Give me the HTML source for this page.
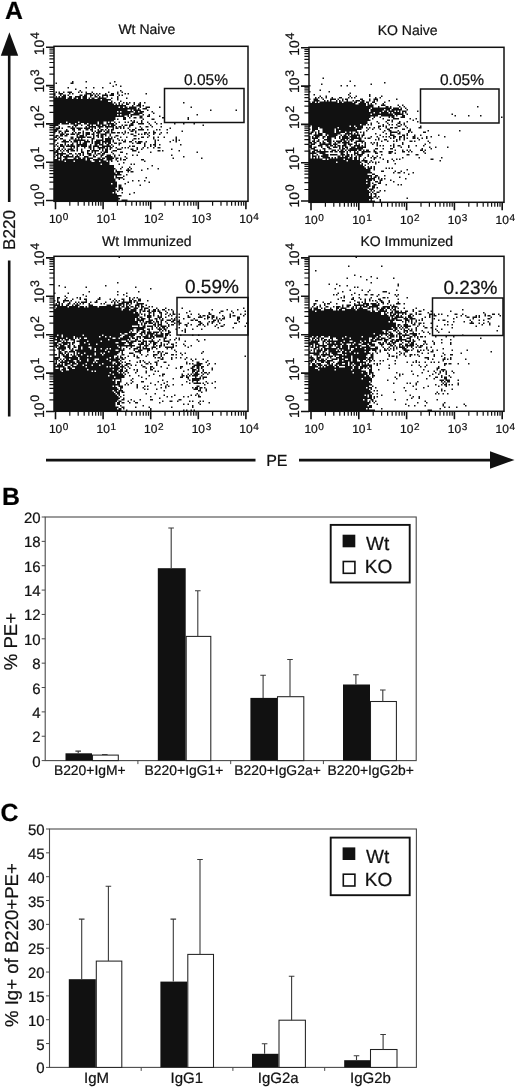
<!DOCTYPE html>
<html lang="en"><head><meta charset="utf-8"><title>Figure</title>
<style>html,body{margin:0;padding:0;background:#fff}svg{display:block}text{stroke:#111;stroke-width:.22px}</style></head>
<body>
<svg width="520" height="1089" viewBox="0 0 520 1089" font-family='"Liberation Sans", sans-serif' fill="#111" text-rendering="geometricPrecision">
<rect width="520" height="1089" fill="#fff"/>
<text x="4.9" y="19.4" font-size="24.8" font-weight="bold" fill="#000">A</text>
<text x="2.0" y="504.8" font-size="24.8" font-weight="bold" fill="#000">B</text>
<text x="0.4" y="821.4" font-size="24.8" font-weight="bold" fill="#000">C</text>
<path d="M9.4 32.3L18.2 55.8H0.8Z" fill="#111"/>
<path d="M9.2 55V202M9.2 260.5V416.5" stroke="#111" stroke-width="2.6" fill="none"/>
<text transform="translate(15 249.9) rotate(-90)" font-size="17.1">B220</text>
<path d="M46 460.1H255.5M299 460.1H491" stroke="#111" stroke-width="2.6" fill="none"/>
<path d="M514.5 460L490 451.3V468.7Z" fill="#111"/>
<text x="266.2" y="466" font-size="16">PE</text>
<g transform="translate(54 46.5) scale(1.5) translate(0 .5)"><path d="M12 23h1M21 23h1M40 23h1M1 24h1M11 24h2M37 24h1M41 25h1M39 26h1M44 26h1M9 27h1M21 27h1M26 27h1M32 27h1M14 28h1M17 29h1M44 29h1M1 30h1M3 30h1M6 30h1M9 30h3M16 30h1M18 30h1M21 30h1M25 30h1M36 30h1M42 30h1M45 30h1M0 31h1M3 31h3M10 31h1M12 31h1M21 31h4M26 31h1M28 31h1M30 31h1M34 31h1M38 31h2M42 31h1M47 31h1M49 31h1M61 31h1M0 32h1M4 32h1M6 32h2M9 32h1M17 32h2M20 32h2M24 32h2M27 32h1M29 32h1M32 32h4M37 32h3M43 32h1M45 32h1M1 33h1M3 33h1M5 33h3M10 33h2M14 33h4M19 33h3M24 33h1M27 33h2M30 33h1M32 33h1M35 33h1M42 33h1M0 34h8M9 34h3M13 34h2M16 34h2M19 34h3M23 34h1M25 34h2M29 34h6M38 34h1M42 34h1M48 34h1M0 35h31M32 35h6M42 35h1M0 36h36M38 36h1M44 36h1M0 37h39M40 37h1M43 37h1M46 37h1M48 37h1M50 37h1M53 37h1M57 37h1M60 37h1M86 37h1M0 38h40M41 38h1M43 38h1M45 38h1M48 38h2M53 38h1M56 38h2M0 39h48M52 39h1M55 39h3M59 39h1M0 40h43M44 40h2M47 40h2M50 40h5M57 40h1M61 40h3M70 40h1M91 40h1M0 41h55M56 41h1M59 41h3M0 42h49M51 42h1M53 42h5M62 42h1M104 42h1M121 42h1M0 43h42M43 43h1M45 43h8M54 43h2M57 43h3M65 43h1M0 44h51M53 44h6M66 44h1M0 45h42M43 45h1M45 45h5M51 45h6M59 45h1M63 45h1M95 45h1M0 46h47M49 46h1M51 46h1M57 46h2M62 46h2M70 46h1M0 47h41M46 47h2M50 47h1M53 47h2M57 47h2M72 47h2M89 47h1M0 48h41M42 48h1M46 48h2M59 48h1M65 48h2M89 48h1M0 49h40M51 49h1M53 49h1M58 49h1M0 50h8M9 50h7M17 50h12M30 50h3M35 50h1M37 50h1M40 50h1M43 50h1M47 50h1M49 50h1M52 50h2M55 50h1M58 50h1M62 50h1M67 50h1M0 51h4M5 51h5M11 51h3M15 51h3M20 51h2M23 51h6M30 51h3M35 51h5M41 51h1M51 51h2M56 51h4M63 51h1M68 51h1M71 51h1M80 51h1M86 51h1M93 51h1M0 52h3M13 52h3M18 52h1M22 52h2M25 52h1M28 52h3M32 52h3M36 52h1M38 52h3M45 52h1M47 52h2M50 52h3M64 52h1M99 52h1M0 53h1M3 53h1M9 53h2M12 53h1M14 53h1M21 53h1M23 53h5M29 53h4M34 53h6M41 53h1M43 53h2M46 53h1M50 53h1M57 53h1M61 53h2M65 53h1M71 53h1M1 54h3M5 54h1M11 54h3M15 54h4M20 54h4M25 54h1M27 54h1M30 54h1M35 54h1M39 54h1M41 54h2M44 54h1M46 54h1M49 54h1M54 54h1M58 54h1M77 54h1M0 55h3M8 55h1M12 55h2M16 55h2M21 55h2M24 55h2M29 55h1M31 55h2M34 55h1M36 55h1M38 55h2M50 55h1M52 55h2M56 55h4M62 55h1M68 55h1M70 55h1M75 55h1M0 56h2M3 56h2M7 56h3M13 56h1M19 56h1M25 56h1M27 56h1M29 56h3M33 56h1M35 56h2M38 56h1M47 56h1M51 56h2M54 56h1M66 56h1M85 56h1M0 57h1M3 57h1M5 57h1M7 57h1M12 57h1M14 57h1M16 57h2M19 57h1M21 57h3M26 57h1M28 57h3M34 57h3M38 57h3M42 57h2M45 57h1M47 57h1M49 57h1M54 57h1M60 57h2M63 57h1M66 57h2M71 57h1M75 57h1M4 58h3M8 58h2M11 58h3M15 58h2M19 58h1M21 58h3M25 58h2M29 58h1M31 58h4M37 58h1M46 58h1M51 58h2M56 58h1M58 58h1M60 58h1M62 58h1M66 58h1M70 58h1M1 59h2M4 59h2M7 59h2M15 59h1M17 59h3M21 59h1M26 59h1M28 59h2M31 59h2M34 59h1M37 59h1M41 59h2M53 59h2M63 59h1M0 60h2M3 60h1M11 60h2M15 60h6M22 60h3M26 60h1M29 60h1M31 60h2M36 60h1M38 60h1M40 60h1M44 60h1M48 60h1M58 60h2M62 60h1M66 60h1M69 60h1M73 60h1M81 60h1M2 61h1M4 61h2M11 61h2M14 61h1M16 61h1M18 61h1M25 61h2M32 61h1M34 61h5M42 61h1M53 61h2M56 61h1M66 61h1M81 61h1M0 62h2M6 62h2M10 62h1M13 62h8M22 62h1M25 62h1M28 62h5M34 62h4M39 62h1M43 62h1M45 62h1M47 62h1M52 62h1M67 62h1M69 62h1M79 62h1M81 62h1M83 62h1M0 63h1M5 63h5M11 63h1M13 63h3M17 63h1M20 63h4M25 63h1M27 63h4M32 63h6M39 63h1M46 63h2M50 63h2M54 63h1M56 63h3M61 63h1M67 63h1M77 63h1M81 63h1M2 64h1M7 64h1M12 64h1M15 64h1M17 64h1M19 64h3M25 64h1M27 64h4M32 64h1M34 64h1M36 64h2M40 64h2M43 64h2M52 64h1M55 64h3M60 64h1M67 64h1M1 65h1M4 65h2M7 65h1M9 65h1M11 65h2M15 65h7M24 65h1M27 65h2M30 65h3M35 65h2M38 65h1M43 65h1M60 65h1M64 65h1M66 65h2M70 65h1M84 65h1M0 66h1M2 66h1M4 66h3M8 66h6M15 66h2M18 66h4M23 66h2M26 66h4M32 66h6M39 66h1M50 66h1M52 66h2M60 66h1M64 66h1M67 66h1M3 67h1M6 67h1M11 67h1M13 67h1M15 67h1M20 67h1M23 67h2M26 67h1M29 67h5M35 67h1M37 67h2M41 67h1M45 67h1M47 67h1M49 67h1M55 67h1M59 67h1M62 67h1M66 67h1M69 67h2M0 68h1M2 68h2M5 68h1M7 68h1M9 68h4M15 68h1M18 68h1M24 68h1M26 68h1M30 68h1M32 68h1M34 68h2M37 68h1M42 68h3M51 68h2M55 68h1M58 68h1M78 68h1M1 69h2M4 69h1M6 69h1M8 69h2M11 69h3M15 69h1M18 69h1M22 69h2M25 69h5M32 69h1M34 69h2M39 69h3M52 69h3M69 69h2M72 69h1M83 69h1M0 70h3M5 70h1M9 70h1M18 70h2M22 70h1M25 70h1M27 70h1M31 70h1M33 70h3M38 70h1M44 70h2M56 70h1M64 70h1M95 70h1M0 71h1M2 71h6M10 71h2M14 71h1M16 71h2M19 71h1M22 71h3M27 71h1M29 71h2M32 71h2M39 71h1M48 71h1M1 72h2M4 72h2M8 72h2M12 72h1M15 72h1M17 72h1M19 72h1M23 72h2M26 72h1M28 72h1M31 72h2M35 72h3M40 72h1M43 72h1M52 72h1M55 72h1M78 72h1M0 73h1M2 73h1M4 73h1M6 73h7M14 73h3M20 73h3M26 73h2M31 73h1M34 73h5M40 73h1M47 73h1M86 73h1M2 74h3M7 74h2M13 74h2M16 74h2M19 74h2M22 74h4M29 74h2M32 74h2M35 74h5M41 74h2M44 74h1M48 74h1M79 74h1M98 74h1M0 75h3M4 75h1M6 75h15M22 75h2M26 75h7M35 75h4M41 75h1M44 75h1M46 75h2M58 75h2M0 76h7M8 76h5M14 76h11M27 76h3M31 76h4M36 76h1M38 76h1M42 76h1M60 76h1M0 77h37M46 77h1M0 78h31M32 78h5M43 78h1M51 78h1M53 78h1M0 79h40M65 79h1M0 80h40M45 80h1M50 80h1M0 81h41M44 81h1M49 81h1M51 81h1M62 81h1M69 81h1M0 82h40M41 82h1M48 82h3M58 82h1M0 83h40M41 83h5M49 83h1M51 83h2M0 84h41M42 84h2M0 85h45M48 85h1M0 86h40M41 86h1M46 86h1M0 87h40M41 87h5M61 87h1M0 88h41M43 88h1M46 88h1M0 89h41M52 89h1M56 89h1M60 89h1M0 90h42M49 90h1M63 90h1M0 91h38M39 91h3M47 91h1M0 92h42M43 92h2M57 92h1M0 93h42M43 93h2M0 94h41M43 94h3M0 95h42M43 95h1M45 95h1M0 96h41M42 96h1M0 97h39M40 97h1M45 97h1M53 97h1M0 98h42M50 98h1M0 99h45M0 100h43M0 101h44M0 102h43M45 102h4" stroke="#111" stroke-width="1.04" fill="none"/></g>
<rect x="54" y="46.3" width="194" height="155" fill="none" stroke="#111" stroke-width="1.5"/>
<path d="M69.8 201v4.8M54 189.0h-4.6M78.2 201v4.8M54 182.2h-4.6M84.2 201v4.8M54 177.4h-4.6M88.8 201v4.8M54 173.7h-4.6M92.5 201v4.8M54 170.7h-4.6M95.7 201v4.8M54 168.1h-4.6M98.5 201v4.8M54 165.9h-4.6M100.9 201v4.8M54 164.0h-4.6M117.4 201v4.8M54 150.7h-4.6M125.8 201v4.8M54 143.9h-4.6M131.8 201v4.8M54 139.1h-4.6M136.4 201v4.8M54 135.4h-4.6M140.1 201v4.8M54 132.4h-4.6M143.3 201v4.8M54 129.8h-4.6M146.1 201v4.8M54 127.6h-4.6M148.5 201v4.8M54 125.7h-4.6M165.0 201v4.8M54 112.4h-4.6M173.4 201v4.8M54 105.6h-4.6M179.4 201v4.8M54 100.8h-4.6M184.0 201v4.8M54 97.1h-4.6M187.7 201v4.8M54 94.1h-4.6M190.9 201v4.8M54 91.5h-4.6M193.7 201v4.8M54 89.3h-4.6M196.1 201v4.8M54 87.4h-4.6M212.6 201v4.8M54 74.1h-4.6M221.0 201v4.8M54 67.3h-4.6M227.0 201v4.8M54 62.5h-4.6M231.6 201v4.8M54 58.8h-4.6M235.3 201v4.8M54 55.8h-4.6M238.5 201v4.8M54 53.2h-4.6M241.3 201v4.8M54 51.0h-4.6M243.7 201v4.8M54 49.1h-4.6" stroke="#111" stroke-width="1.2" fill="none"/>
<path d="M55.5 201v8.3M54 200.5h-8M103.1 201v8.3M54 162.2h-8M150.7 201v8.3M54 123.9h-8M198.3 201v8.3M54 85.6h-8M245.9 201v8.3M54 47.3h-8" stroke="#111" stroke-width="1.6" fill="none"/>
<text x="48.9" y="223.3" font-size="12">10<tspan dy="-3.2" dx="0.6" font-size="10">0</tspan></text>
<text transform="translate(43.9 207.1) rotate(-90)" font-size="13.9">10<tspan dy="-4.8" dx="0.8" font-size="12.4">0</tspan></text>
<text x="96.5" y="223.3" font-size="12">10<tspan dy="-3.2" dx="0.6" font-size="10">1</tspan></text>
<text transform="translate(43.9 169.8) rotate(-90)" font-size="13.9">10<tspan dy="-4.8" dx="0.8" font-size="12.4">1</tspan></text>
<text x="144.1" y="223.3" font-size="12">10<tspan dy="-3.2" dx="0.6" font-size="10">2</tspan></text>
<text transform="translate(43.9 128.5) rotate(-90)" font-size="13.9">10<tspan dy="-4.8" dx="0.8" font-size="12.4">2</tspan></text>
<text x="191.7" y="223.3" font-size="12">10<tspan dy="-3.2" dx="0.6" font-size="10">3</tspan></text>
<text transform="translate(43.9 92.5) rotate(-90)" font-size="13.9">10<tspan dy="-4.8" dx="0.8" font-size="12.4">3</tspan></text>
<text x="239.3" y="223.3" font-size="12">10<tspan dy="-3.2" dx="0.6" font-size="10">4</tspan></text>
<text transform="translate(43.9 55.3) rotate(-90)" font-size="13.9">10<tspan dy="-4.8" dx="0.8" font-size="12.4">4</tspan></text>
<rect x="164.5" y="88.5" width="79.5" height="34.0" fill="none" stroke="#111" stroke-width="1.5"/>
<text x="184" y="85" font-size="15.5">0.05%</text>
<text x="146.8" y="34.3" font-size="14" text-anchor="middle">Wt Naive</text>
<g transform="translate(309 47.5) scale(1.5) translate(0 .5)"><path d="M9 20h1M27 22h1M50 23h1M8 24h1M41 24h1M0 25h1M21 25h1M25 25h1M30 25h1M7 28h1M0 29h1M13 29h1M27 30h1M3 31h1M26 31h1M40 31h1M7 32h1M11 32h1M27 32h1M31 32h1M40 32h1M48 32h1M4 33h1M6 33h1M8 33h1M11 33h1M15 33h1M20 33h2M26 33h1M28 33h1M30 33h1M44 33h1M47 33h1M0 34h1M3 34h3M9 34h1M14 34h4M19 34h1M22 34h1M24 34h2M34 34h2M40 34h1M43 34h3M58 34h1M3 35h4M10 35h1M12 35h1M14 35h1M18 35h1M20 35h1M22 35h1M25 35h1M29 35h1M31 35h3M35 35h2M40 35h1M43 35h1M45 35h1M53 35h1M0 36h1M2 36h2M5 36h1M7 36h12M20 36h2M23 36h6M30 36h2M34 36h3M38 36h2M42 36h2M50 36h1M0 37h31M33 37h5M39 37h1M41 37h1M44 37h1M49 37h1M0 38h38M39 38h4M48 38h3M59 38h1M62 38h1M0 39h43M46 39h1M51 39h2M54 39h1M60 39h1M63 39h1M112 39h1M0 40h41M42 40h13M56 40h4M61 40h1M64 40h1M0 41h40M41 41h9M51 41h3M55 41h7M65 41h1M0 42h40M41 42h8M50 42h2M53 42h4M58 42h1M60 42h1M62 42h3M72 42h1M0 43h43M44 43h3M48 43h5M54 43h1M56 43h5M62 43h1M64 43h1M0 44h41M42 44h14M57 44h6M65 44h1M95 44h1M0 45h46M48 45h9M58 45h1M62 45h2M97 45h1M106 45h1M114 45h1M0 46h41M43 46h1M47 46h1M53 46h1M55 46h2M61 46h3M128 46h1M0 47h40M42 47h1M49 47h1M56 47h4M67 47h1M71 47h1M0 48h41M52 48h2M55 48h1M69 48h1M0 49h39M45 49h1M51 49h1M55 49h1M60 49h1M65 49h1M72 49h1M0 50h39M41 50h1M46 50h1M52 50h1M59 50h2M63 50h1M0 51h34M35 51h3M39 51h1M41 51h1M49 51h1M53 51h1M55 51h1M58 51h1M61 51h1M63 51h1M0 52h1M2 52h25M28 52h2M31 52h5M46 52h2M49 52h1M51 52h1M59 52h2M64 52h1M74 52h1M2 53h4M7 53h12M20 53h11M32 53h4M38 53h1M40 53h1M43 53h1M46 53h1M51 53h1M54 53h2M57 53h2M65 53h1M73 53h2M0 54h1M2 54h4M9 54h8M18 54h17M39 54h1M42 54h1M47 54h1M52 54h2M62 54h2M67 54h1M2 55h2M6 55h1M9 55h8M18 55h2M21 55h11M38 55h1M50 55h1M53 55h2M59 55h1M66 55h2M79 55h1M100 55h1M1 56h2M4 56h1M6 56h1M9 56h8M18 56h6M25 56h2M28 56h1M31 56h2M34 56h1M36 56h1M49 56h1M54 56h5M60 56h1M66 56h1M68 56h1M76 56h2M0 57h2M4 57h1M6 57h3M11 57h10M24 57h5M30 57h1M32 57h1M36 57h1M44 57h1M51 57h1M54 57h1M59 57h2M65 57h1M3 58h6M11 58h1M13 58h6M21 58h1M23 58h2M26 58h1M28 58h6M35 58h2M47 58h1M54 58h3M62 58h2M65 58h1M70 58h1M74 58h1M86 58h1M0 59h1M2 59h1M4 59h3M9 59h2M12 59h6M20 59h1M22 59h4M27 59h5M33 59h1M35 59h1M41 59h1M45 59h1M49 59h1M51 59h1M53 59h1M56 59h2M60 59h2M63 59h1M69 59h2M78 59h1M81 59h1M90 59h1M0 60h1M2 60h4M9 60h1M12 60h3M17 60h1M20 60h1M22 60h5M28 60h7M37 60h1M39 60h2M46 60h1M54 60h1M56 60h1M60 60h1M63 60h1M65 60h1M69 60h2M72 60h1M75 60h1M78 60h1M0 61h1M3 61h1M6 61h1M10 61h5M21 61h3M25 61h1M27 61h3M33 61h2M44 61h1M46 61h1M50 61h2M58 61h1M60 61h1M63 61h1M73 61h1M0 62h1M2 62h2M5 62h2M9 62h1M12 62h3M16 62h1M18 62h4M23 62h2M26 62h1M28 62h1M31 62h6M48 62h1M52 62h1M56 62h1M58 62h1M67 62h2M70 62h1M79 62h1M0 63h2M3 63h2M7 63h1M9 63h2M13 63h2M17 63h1M19 63h2M22 63h5M30 63h2M35 63h1M37 63h1M41 63h1M43 63h1M45 63h1M62 63h1M80 63h1M1 64h3M7 64h8M16 64h3M23 64h2M26 64h3M31 64h1M33 64h1M37 64h1M42 64h1M45 64h1M56 64h1M62 64h1M77 64h1M0 65h2M6 65h3M11 65h2M14 65h2M17 65h1M19 65h2M22 65h3M27 65h1M30 65h4M35 65h1M37 65h1M45 65h1M47 65h1M49 65h1M54 65h1M56 65h1M59 65h2M66 65h1M71 65h1M76 65h1M0 66h2M3 66h2M8 66h1M12 66h2M16 66h3M20 66h1M22 66h1M24 66h2M28 66h3M32 66h6M56 66h1M61 66h1M66 66h1M80 66h1M84 66h1M92 66h1M1 67h3M9 67h2M13 67h2M20 67h1M22 67h2M25 67h1M27 67h9M44 67h2M49 67h1M54 67h2M75 67h1M81 67h1M0 68h1M3 68h3M7 68h1M10 68h1M15 68h3M19 68h1M21 68h2M24 68h1M26 68h6M33 68h2M36 68h1M38 68h2M43 68h1M57 68h1M62 68h1M65 68h1M67 68h1M74 68h2M77 68h1M0 69h1M2 69h2M5 69h8M14 69h2M17 69h2M20 69h4M25 69h1M27 69h1M30 69h1M32 69h1M35 69h6M43 69h2M47 69h2M53 69h3M62 69h2M66 69h1M68 69h1M76 69h1M0 70h5M7 70h4M21 70h2M25 70h1M30 70h3M35 70h2M44 70h2M53 70h2M57 70h1M77 70h1M0 71h1M2 71h1M5 71h1M9 71h4M14 71h5M21 71h3M25 71h2M28 71h1M30 71h1M32 71h4M39 71h1M48 71h1M65 71h2M71 71h2M0 72h1M2 72h3M6 72h1M8 72h5M19 72h2M22 72h1M24 72h3M28 72h1M31 72h1M33 72h2M39 72h1M42 72h1M45 72h1M0 73h1M2 73h1M4 73h1M6 73h1M9 73h5M15 73h1M17 73h1M19 73h7M27 73h2M30 73h2M33 73h1M37 73h1M41 73h1M43 73h2M47 73h1M62 73h1M73 73h1M88 73h1M0 74h9M11 74h1M13 74h10M24 74h5M30 74h2M33 74h1M36 74h1M43 74h1M49 74h1M55 74h1M58 74h1M60 74h1M81 74h2M0 75h25M26 75h8M35 75h4M41 75h1M52 75h1M56 75h1M87 75h1M0 76h18M19 76h16M37 76h2M40 76h1M42 76h1M44 76h1M46 76h1M52 76h1M0 77h34M35 77h1M39 77h1M44 77h1M57 77h1M0 78h36M37 78h1M0 79h37M39 79h1M41 79h1M43 79h1M0 80h38M39 80h3M43 80h1M51 80h1M53 80h1M55 80h1M0 81h41M43 81h1M65 81h1M0 82h41M48 82h2M57 82h1M61 82h1M0 83h42M56 83h1M59 83h2M63 83h1M69 83h1M0 84h39M42 84h2M66 84h1M0 85h42M44 85h2M50 85h1M0 86h40M41 86h1M43 86h2M46 86h1M60 86h1M0 87h44M46 87h1M48 87h1M50 87h1M64 87h1M0 88h38M39 88h3M43 88h1M47 88h2M54 88h1M0 89h41M44 89h2M47 89h1M56 89h1M0 90h38M39 90h2M42 90h1M46 90h2M0 91h41M43 91h2M51 91h1M59 91h1M61 91h1M0 92h41M42 92h2M0 93h40M42 93h2M45 93h1M0 94h39M40 94h3M0 95h40M41 95h1M43 95h1M47 95h1M50 95h1M0 96h41M42 96h1M45 96h2M0 97h40M41 97h1M43 97h2M0 98h40M41 98h1M44 98h1M0 99h42M43 99h2M46 99h1M0 100h43M45 100h1M65 100h1M0 101h40M41 101h1M47 101h1M0 102h44M47 102h1" stroke="#111" stroke-width="1.04" fill="none"/></g>
<rect x="309" y="47.3" width="195" height="155" fill="none" stroke="#111" stroke-width="1.5"/>
<path d="M325.4 202v4.8M309 189.5h-4.6M333.8 202v4.8M309 182.7h-4.6M339.8 202v4.8M309 177.9h-4.6M344.4 202v4.8M309 174.2h-4.6M348.2 202v4.8M309 171.2h-4.6M351.4 202v4.8M309 168.6h-4.6M354.2 202v4.8M309 166.4h-4.6M356.6 202v4.8M309 164.5h-4.6M373.2 202v4.8M309 151.2h-4.6M381.6 202v4.8M309 144.4h-4.6M387.6 202v4.8M309 139.6h-4.6M392.2 202v4.8M309 135.9h-4.6M396.0 202v4.8M309 132.9h-4.6M399.2 202v4.8M309 130.3h-4.6M402.0 202v4.8M309 128.1h-4.6M404.4 202v4.8M309 126.2h-4.6M421.0 202v4.8M309 112.9h-4.6M429.4 202v4.8M309 106.1h-4.6M435.4 202v4.8M309 101.3h-4.6M440.0 202v4.8M309 97.6h-4.6M443.8 202v4.8M309 94.6h-4.6M447.0 202v4.8M309 92.0h-4.6M449.8 202v4.8M309 89.8h-4.6M452.2 202v4.8M309 87.9h-4.6M468.8 202v4.8M309 74.6h-4.6M477.2 202v4.8M309 67.8h-4.6M483.2 202v4.8M309 63.0h-4.6M487.8 202v4.8M309 59.3h-4.6M491.6 202v4.8M309 56.3h-4.6M494.8 202v4.8M309 53.7h-4.6M497.6 202v4.8M309 51.5h-4.6M500.0 202v4.8M309 49.6h-4.6" stroke="#111" stroke-width="1.2" fill="none"/>
<path d="M311.0 202v8.3M309 201.0h-8M358.8 202v8.3M309 162.7h-8M406.6 202v8.3M309 124.4h-8M454.4 202v8.3M309 86.1h-8M502.2 202v8.3M309 47.8h-8" stroke="#111" stroke-width="1.6" fill="none"/>
<text x="304.4" y="224.3" font-size="12">10<tspan dy="-3.2" dx="0.6" font-size="10">0</tspan></text>
<text transform="translate(298.9 207.6) rotate(-90)" font-size="13.9">10<tspan dy="-4.8" dx="0.8" font-size="12.4">0</tspan></text>
<text x="352.2" y="224.3" font-size="12">10<tspan dy="-3.2" dx="0.6" font-size="10">1</tspan></text>
<text transform="translate(298.9 170.3) rotate(-90)" font-size="13.9">10<tspan dy="-4.8" dx="0.8" font-size="12.4">1</tspan></text>
<text x="400.0" y="224.3" font-size="12">10<tspan dy="-3.2" dx="0.6" font-size="10">2</tspan></text>
<text transform="translate(298.9 129.0) rotate(-90)" font-size="13.9">10<tspan dy="-4.8" dx="0.8" font-size="12.4">2</tspan></text>
<text x="447.8" y="224.3" font-size="12">10<tspan dy="-3.2" dx="0.6" font-size="10">3</tspan></text>
<text transform="translate(298.9 93.0) rotate(-90)" font-size="13.9">10<tspan dy="-4.8" dx="0.8" font-size="12.4">3</tspan></text>
<text x="495.6" y="224.3" font-size="12">10<tspan dy="-3.2" dx="0.6" font-size="10">4</tspan></text>
<text transform="translate(298.9 55.8) rotate(-90)" font-size="13.9">10<tspan dy="-4.8" dx="0.8" font-size="12.4">4</tspan></text>
<rect x="420.5" y="89" width="78.5" height="34" fill="none" stroke="#111" stroke-width="1.5"/>
<text x="440" y="85" font-size="15.5">0.05%</text>
<text x="407.7" y="34.5" font-size="14" text-anchor="middle">KO Naive</text>
<g transform="translate(54 256.5) scale(1.5) translate(0 .5)"><path d="M43 0h1M42 17h1M3 19h1M34 19h1M7 20h1M21 20h1M54 20h1M64 21h1M23 23h1M42 23h1M56 23h1M0 24h1M9 24h1M48 24h1M19 25h1M42 25h1M46 25h1M7 26h1M21 26h1M48 26h1M2 27h2M8 27h1M15 27h1M17 27h1M30 27h1M50 27h1M53 27h1M55 27h1M2 28h1M7 28h1M12 28h1M17 28h1M20 28h2M29 28h2M37 28h1M40 28h1M45 28h2M50 28h1M52 28h1M56 28h2M0 29h1M2 29h1M6 29h4M11 29h1M21 29h1M28 29h1M39 29h1M41 29h1M43 29h1M46 29h1M50 29h2M53 29h2M56 29h2M62 29h1M2 30h2M6 30h1M10 30h1M14 30h1M16 30h1M18 30h4M24 30h1M27 30h2M34 30h1M38 30h1M40 30h1M42 30h1M45 30h7M53 30h1M55 30h1M1 31h1M3 31h1M5 31h1M9 31h2M13 31h1M15 31h1M17 31h1M19 31h1M23 31h1M31 31h1M33 31h1M40 31h1M43 31h4M48 31h2M51 31h1M55 31h5M0 32h4M5 32h1M8 32h2M12 32h1M14 32h3M23 32h3M35 32h3M39 32h6M46 32h1M48 32h1M50 32h1M54 32h3M58 32h1M61 32h1M0 33h1M2 33h7M10 33h6M17 33h3M21 33h1M23 33h6M30 33h11M43 33h1M45 33h2M48 33h2M51 33h2M54 33h1M56 33h1M58 33h2M63 33h1M65 33h1M1 34h44M47 34h4M53 34h3M58 34h1M60 34h3M68 34h1M74 34h1M85 34h1M126 34h1M0 35h45M46 35h4M51 35h4M57 35h2M60 35h1M63 35h1M66 35h2M69 35h1M72 35h2M76 35h1M78 35h1M105 35h1M115 35h1M122 35h1M0 36h55M57 36h1M59 36h2M62 36h2M65 36h3M69 36h2M74 36h1M79 36h1M90 36h1M111 36h2M118 36h1M127 36h1M0 37h53M54 37h2M57 37h1M63 37h2M66 37h1M70 37h2M75 37h1M79 37h1M88 37h1M103 37h1M110 37h1M119 37h1M0 38h57M58 38h1M60 38h1M63 38h1M66 38h1M71 38h1M74 38h1M77 38h1M79 38h2M83 38h1M91 38h1M96 38h1M103 38h2M117 38h1M124 38h1M127 38h1M0 39h57M60 39h1M62 39h3M66 39h1M69 39h1M71 39h1M76 39h1M78 39h1M89 39h1M97 39h1M99 39h2M102 39h1M105 39h2M112 39h1M117 39h1M119 39h2M126 39h1M0 40h56M57 40h2M62 40h3M69 40h3M74 40h1M81 40h1M83 40h1M89 40h2M96 40h3M102 40h2M105 40h2M108 40h1M113 40h1M117 40h1M122 40h2M0 41h54M55 41h2M58 41h3M63 41h1M67 41h2M70 41h1M72 41h1M78 41h1M80 41h1M86 41h1M93 41h1M100 41h1M102 41h1M105 41h1M108 41h1M110 41h1M112 41h2M122 41h2M0 42h54M55 42h5M63 42h3M68 42h1M71 42h2M75 42h3M79 42h2M83 42h1M91 42h2M94 42h2M106 42h2M109 42h1M111 42h1M122 42h1M0 43h56M57 43h1M59 43h1M61 43h4M66 43h1M68 43h2M71 43h1M74 43h1M78 43h2M82 43h2M96 43h2M103 43h1M105 43h2M109 43h1M123 43h1M0 44h56M58 44h1M60 44h2M63 44h3M67 44h1M69 44h1M71 44h1M75 44h1M80 44h1M83 44h2M89 44h1M97 44h2M102 44h1M105 44h1M110 44h1M120 44h2M128 44h1M0 45h57M58 45h1M60 45h1M66 45h2M69 45h3M76 45h1M78 45h2M83 45h1M87 45h2M91 45h1M96 45h2M99 45h1M102 45h1M108 45h1M113 45h1M0 46h52M56 46h1M59 46h2M62 46h4M67 46h1M69 46h1M71 46h4M76 46h1M88 46h1M95 46h1M100 46h1M107 46h1M111 46h2M127 46h1M0 47h61M65 47h1M68 47h1M70 47h1M72 47h2M75 47h1M83 47h1M109 47h1M119 47h1M0 48h53M55 48h5M62 48h2M65 48h1M69 48h3M73 48h2M81 48h1M87 48h1M92 48h1M98 48h1M0 49h51M52 49h1M55 49h2M59 49h2M63 49h1M70 49h1M72 49h1M74 49h1M76 49h1M85 49h1M87 49h1M0 50h50M51 50h1M55 50h1M58 50h3M62 50h3M66 50h4M71 50h1M76 50h2M87 50h1M0 51h44M45 51h2M49 51h6M57 51h2M60 51h1M62 51h5M68 51h1M71 51h2M74 51h3M0 52h2M3 52h2M6 52h13M20 52h12M33 52h12M47 52h7M58 52h1M61 52h2M64 52h2M67 52h6M74 52h2M77 52h1M84 52h1M92 52h1M96 52h1M0 53h5M6 53h7M14 53h16M31 53h3M35 53h2M38 53h6M46 53h4M51 53h2M55 53h3M59 53h4M64 53h3M68 53h5M74 53h1M0 54h1M2 54h6M9 54h4M14 54h1M16 54h1M18 54h2M22 54h17M41 54h2M44 54h7M52 54h2M55 54h1M57 54h1M60 54h5M66 54h1M73 54h2M81 54h1M83 54h1M0 55h4M5 55h1M7 55h3M11 55h3M17 55h19M37 55h12M50 55h1M54 55h2M59 55h1M65 55h1M70 55h1M73 55h1M77 55h1M80 55h1M83 55h1M95 55h1M100 55h1M2 56h3M6 56h1M8 56h1M13 56h1M15 56h7M23 56h8M32 56h13M48 56h2M51 56h4M56 56h2M59 56h3M63 56h4M69 56h1M73 56h4M87 56h1M96 56h1M0 57h3M5 57h6M12 57h2M17 57h3M21 57h20M43 57h5M49 57h4M58 57h2M61 57h1M64 57h1M66 57h3M71 57h1M76 57h1M81 57h1M0 58h2M3 58h2M6 58h3M10 58h1M12 58h1M17 58h6M24 58h4M29 58h18M50 58h2M56 58h4M61 58h1M63 58h1M66 58h2M71 58h1M73 58h1M75 58h1M78 58h2M86 58h1M0 59h3M4 59h3M9 59h2M13 59h1M16 59h26M43 59h11M57 59h1M60 59h3M66 59h1M68 59h1M70 59h2M73 59h1M79 59h1M81 59h1M87 59h1M91 59h1M1 60h1M3 60h5M9 60h2M13 60h2M16 60h2M19 60h4M25 60h18M44 60h1M48 60h1M51 60h1M55 60h3M59 60h1M61 60h1M65 60h3M70 60h1M74 60h6M89 60h1M2 61h6M10 61h1M12 61h1M16 61h2M19 61h5M25 61h2M28 61h3M32 61h3M36 61h1M38 61h7M46 61h1M50 61h1M53 61h3M57 61h1M59 61h5M65 61h1M68 61h1M75 61h1M78 61h1M0 62h1M3 62h1M5 62h2M11 62h2M14 62h13M28 62h6M35 62h6M43 62h4M53 62h1M56 62h3M62 62h2M80 62h1M3 63h2M7 63h2M10 63h4M15 63h21M37 63h7M45 63h1M54 63h4M62 63h1M66 63h1M69 63h2M72 63h1M81 63h1M99 63h1M3 64h3M7 64h1M9 64h1M13 64h1M15 64h1M17 64h3M21 64h6M28 64h3M32 64h1M34 64h9M45 64h1M50 64h3M57 64h1M69 64h1M71 64h1M74 64h2M84 64h1M87 64h1M98 64h1M0 65h2M3 65h1M5 65h2M8 65h2M11 65h1M13 65h1M15 65h3M19 65h8M28 65h4M33 65h9M45 65h2M53 65h1M58 65h1M62 65h1M66 65h3M71 65h1M73 65h1M78 65h2M81 65h1M85 65h1M3 66h1M6 66h4M12 66h3M16 66h6M23 66h1M25 66h15M42 66h1M44 66h1M49 66h1M53 66h1M55 66h1M61 66h1M66 66h1M71 66h1M127 66h1M0 67h4M7 67h9M17 67h20M38 67h2M41 67h2M44 67h2M47 67h1M55 67h2M67 67h1M69 67h2M72 67h1M78 67h1M81 67h1M84 67h1M88 67h1M0 68h3M4 68h1M6 68h1M8 68h2M11 68h5M17 68h5M23 68h4M30 68h5M36 68h8M45 68h2M71 68h2M78 68h1M87 68h1M91 68h1M94 68h1M99 68h1M1 69h1M3 69h1M5 69h1M7 69h6M15 69h2M18 69h4M23 69h4M28 69h9M38 69h5M44 69h1M50 69h1M57 69h1M59 69h1M69 69h1M92 69h1M102 69h1M1 70h1M4 70h5M10 70h4M15 70h11M27 70h1M29 70h10M41 70h3M45 70h1M47 70h1M55 70h1M57 70h1M60 70h1M63 70h1M67 70h2M73 70h2M88 70h1M95 70h2M101 70h1M0 71h2M3 71h1M5 71h1M7 71h4M12 71h3M16 71h5M22 71h10M33 71h6M40 71h1M42 71h3M48 71h3M61 71h2M64 71h1M68 71h1M88 71h1M90 71h1M92 71h1M95 71h4M103 71h1M107 71h1M0 72h1M2 72h4M7 72h2M11 72h2M15 72h4M20 72h5M26 72h4M31 72h13M45 72h1M47 72h2M51 72h1M54 72h1M58 72h1M68 72h1M76 72h1M93 72h5M102 72h1M0 73h7M9 73h2M12 73h9M22 73h13M36 73h1M38 73h1M40 73h3M44 73h3M49 73h1M59 73h2M64 73h2M71 73h1M84 73h2M92 73h2M95 73h2M98 73h2M0 74h1M3 74h1M6 74h2M9 74h3M14 74h30M45 74h1M47 74h1M50 74h1M61 74h1M64 74h1M66 74h1M75 74h1M81 74h1M84 74h1M91 74h2M95 74h2M98 74h1M105 74h1M0 75h4M5 75h3M10 75h12M23 75h16M40 75h3M44 75h2M48 75h1M53 75h1M55 75h1M64 75h2M89 75h1M92 75h3M96 75h1M99 75h1M105 75h1M0 76h5M6 76h19M26 76h1M28 76h14M43 76h3M47 76h2M55 76h1M61 76h1M67 76h1M69 76h1M86 76h1M92 76h2M95 76h2M99 76h1M0 77h37M38 77h5M44 77h1M46 77h1M49 77h1M54 77h1M61 77h1M92 77h1M94 77h2M98 77h1M100 77h2M103 77h1M0 78h39M40 78h6M47 78h1M66 78h1M72 78h2M85 78h1M89 78h1M91 78h1M93 78h4M99 78h1M102 78h1M0 79h36M37 79h10M50 79h1M56 79h1M63 79h1M70 79h1M72 79h1M85 79h2M88 79h1M90 79h1M92 79h4M98 79h1M0 80h40M41 80h6M58 80h1M84 80h2M88 80h2M94 80h1M97 80h1M99 80h3M0 81h45M52 81h1M61 81h1M79 81h1M89 81h1M92 81h6M99 81h1M0 82h39M40 82h1M44 82h1M51 82h1M72 82h1M90 82h1M92 82h5M0 83h41M42 83h3M52 83h1M58 83h2M69 83h1M75 83h1M88 83h1M92 83h1M95 83h1M101 83h1M107 83h1M0 84h41M42 84h2M48 84h1M51 84h1M64 84h1M73 84h1M90 84h1M93 84h5M99 84h1M102 84h1M105 84h1M0 85h44M47 85h1M49 85h1M55 85h1M67 85h1M71 85h1M75 85h1M79 85h1M85 85h1M100 85h1M0 86h39M40 86h1M43 86h3M55 86h1M60 86h1M62 86h1M74 86h1M76 86h1M95 86h2M0 87h42M44 87h2M55 87h1M59 87h1M71 87h1M74 87h1M92 87h1M94 87h2M97 87h2M100 87h1M107 87h1M0 88h43M44 88h1M60 88h1M62 88h1M68 88h1M93 88h3M97 88h1M101 88h1M0 89h39M40 89h2M43 89h3M73 89h1M96 89h2M101 89h1M0 90h40M41 90h3M45 90h2M98 90h1M0 91h41M42 91h2M61 91h1M67 91h1M95 91h1M0 92h42M43 92h1M46 92h1M73 92h1M80 92h1M91 92h1M94 92h1M96 92h1M0 93h43M44 93h1M64 93h1M75 93h1M78 93h1M86 93h1M89 93h1M96 93h2M0 94h44M46 94h1M70 94h1M0 95h43M45 95h2M51 95h1M57 95h1M64 95h2M83 95h2M0 96h42M43 96h2M49 96h1M53 96h1M72 96h1M77 96h2M82 96h1M90 96h1M92 96h1M97 96h1M99 96h1M0 97h41M42 97h2M45 97h2M50 97h1M54 97h2M70 97h1M96 97h1M103 97h1M0 98h41M42 98h2M86 98h1M89 98h1M97 98h1M0 99h41M44 99h1M59 99h1M92 99h1M0 100h43M45 100h2M54 100h1M63 100h1M78 100h1M92 100h1M0 101h42M43 101h2M46 101h1M64 101h1M0 102h45M48 102h1M64 102h1M86 102h1M88 102h1M91 102h1M93 102h1" stroke="#111" stroke-width="1.04" fill="none"/></g>
<rect x="54" y="256.3" width="194" height="155" fill="none" stroke="#111" stroke-width="1.5"/>
<path d="M69.8 411v4.8M54 399.9h-4.6M78.2 411v4.8M54 393.2h-4.6M84.2 411v4.8M54 388.4h-4.6M88.8 411v4.8M54 384.7h-4.6M92.5 411v4.8M54 381.6h-4.6M95.7 411v4.8M54 379.0h-4.6M98.5 411v4.8M54 376.8h-4.6M100.9 411v4.8M54 374.9h-4.6M117.4 411v4.8M54 361.5h-4.6M125.8 411v4.8M54 354.8h-4.6M131.8 411v4.8M54 350.0h-4.6M136.4 411v4.8M54 346.3h-4.6M140.1 411v4.8M54 343.2h-4.6M143.3 411v4.8M54 340.6h-4.6M146.1 411v4.8M54 338.4h-4.6M148.5 411v4.8M54 336.5h-4.6M165.0 411v4.8M54 323.1h-4.6M173.4 411v4.8M54 316.4h-4.6M179.4 411v4.8M54 311.6h-4.6M184.0 411v4.8M54 307.9h-4.6M187.7 411v4.8M54 304.8h-4.6M190.9 411v4.8M54 302.2h-4.6M193.7 411v4.8M54 300.0h-4.6M196.1 411v4.8M54 298.1h-4.6M212.6 411v4.8M54 284.7h-4.6M221.0 411v4.8M54 278.0h-4.6M227.0 411v4.8M54 273.2h-4.6M231.6 411v4.8M54 269.5h-4.6M235.3 411v4.8M54 266.4h-4.6M238.5 411v4.8M54 263.8h-4.6M241.3 411v4.8M54 261.6h-4.6M243.7 411v4.8M54 259.7h-4.6" stroke="#111" stroke-width="1.2" fill="none"/>
<path d="M55.5 411v8.3M54 411.5h-8M103.1 411v8.3M54 373.1h-8M150.7 411v8.3M54 334.7h-8M198.3 411v8.3M54 296.3h-8M245.9 411v8.3M54 257.9h-8" stroke="#111" stroke-width="1.6" fill="none"/>
<text x="48.9" y="433.3" font-size="12">10<tspan dy="-3.2" dx="0.6" font-size="10">0</tspan></text>
<text transform="translate(43.9 418.1) rotate(-90)" font-size="13.9">10<tspan dy="-4.8" dx="0.8" font-size="12.4">0</tspan></text>
<text x="96.5" y="433.3" font-size="12">10<tspan dy="-3.2" dx="0.6" font-size="10">1</tspan></text>
<text transform="translate(43.9 380.7) rotate(-90)" font-size="13.9">10<tspan dy="-4.8" dx="0.8" font-size="12.4">1</tspan></text>
<text x="144.1" y="433.3" font-size="12">10<tspan dy="-3.2" dx="0.6" font-size="10">2</tspan></text>
<text transform="translate(43.9 339.3) rotate(-90)" font-size="13.9">10<tspan dy="-4.8" dx="0.8" font-size="12.4">2</tspan></text>
<text x="191.7" y="433.3" font-size="12">10<tspan dy="-3.2" dx="0.6" font-size="10">3</tspan></text>
<text transform="translate(43.9 303.2) rotate(-90)" font-size="13.9">10<tspan dy="-4.8" dx="0.8" font-size="12.4">3</tspan></text>
<text x="239.3" y="433.3" font-size="12">10<tspan dy="-3.2" dx="0.6" font-size="10">4</tspan></text>
<text transform="translate(43.9 265.9) rotate(-90)" font-size="13.9">10<tspan dy="-4.8" dx="0.8" font-size="12.4">4</tspan></text>
<rect x="177" y="297.5" width="71" height="37.5" fill="none" stroke="#111" stroke-width="1.5"/>
<text x="185" y="293.3" font-size="19">0.59%</text>
<text x="146.8" y="245.5" font-size="14" text-anchor="middle">Wt Immunized</text>
<g transform="translate(309 256.5) scale(1.5) translate(0 .5)"><path d="M31 0h1M26 6h1M48 6h1M4 9h1M30 12h1M34 13h1M41 13h1M25 14h1M45 14h1M56 14h1M38 15h1M41 17h1M13 18h1M18 18h1M59 18h1M20 19h1M25 19h1M59 19h1M30 20h1M32 20h1M17 21h1M27 22h1M35 22h1M40 22h1M58 22h1M22 23h1M39 23h1M49 23h3M19 24h1M30 24h1M53 24h1M16 25h1M18 25h1M28 25h1M33 25h1M37 25h2M41 25h2M46 25h1M57 25h1M59 25h1M23 26h1M45 26h1M58 26h1M21 27h1M23 27h1M29 27h1M33 27h1M41 27h1M49 27h2M52 27h1M65 27h1M19 28h1M28 28h2M34 28h1M37 28h1M40 28h1M46 28h2M59 28h1M4 29h2M22 29h2M30 29h1M37 29h1M40 29h1M42 29h1M44 29h1M47 29h2M53 29h1M9 30h1M14 30h1M27 30h1M32 30h2M35 30h1M37 30h1M45 30h1M48 30h2M53 30h1M59 30h1M3 31h2M10 31h1M12 31h2M18 31h1M30 31h1M33 31h1M36 31h4M41 31h4M46 31h1M49 31h1M52 31h1M58 31h3M63 31h1M3 32h1M7 32h1M10 32h1M22 32h1M25 32h3M30 32h7M38 32h2M42 32h5M54 32h1M56 32h1M2 33h1M5 33h1M7 33h1M11 33h2M16 33h1M18 33h3M22 33h1M25 33h2M29 33h1M31 33h1M34 33h1M36 33h3M40 33h6M49 33h5M55 33h4M1 34h1M3 34h3M8 34h1M10 34h1M14 34h1M18 34h2M21 34h4M28 34h2M31 34h1M33 34h3M39 34h2M42 34h1M45 34h2M48 34h3M52 34h2M55 34h1M57 34h1M59 34h1M63 34h1M71 34h1M0 35h2M3 35h5M10 35h6M18 35h1M20 35h2M24 35h7M32 35h7M42 35h1M45 35h1M47 35h3M51 35h1M54 35h1M56 35h2M69 35h1M76 35h1M102 35h1M0 36h4M5 36h36M42 36h2M46 36h6M55 36h1M57 36h3M61 36h1M64 36h2M69 36h1M73 36h2M81 36h1M94 36h1M0 37h48M50 37h1M52 37h1M54 37h2M57 37h8M71 37h1M79 37h1M116 37h1M0 38h48M50 38h2M54 38h1M56 38h2M59 38h1M62 38h1M64 38h1M67 38h2M71 38h1M73 38h2M80 38h2M83 38h1M86 38h1M88 38h1M97 38h2M102 38h1M117 38h1M122 38h2M126 38h1M0 39h53M54 39h3M58 39h2M61 39h1M66 39h2M69 39h1M80 39h1M83 39h2M92 39h1M101 39h1M104 39h1M111 39h1M113 39h1M117 39h1M119 39h2M127 39h1M0 40h54M55 40h1M57 40h6M64 40h1M66 40h3M77 40h1M80 40h1M98 40h1M105 40h2M109 40h3M113 40h1M121 40h1M0 41h54M55 41h4M63 41h3M67 41h4M75 41h1M83 41h1M96 41h1M109 41h1M119 41h2M0 42h57M58 42h4M64 42h3M68 42h1M71 42h1M73 42h1M75 42h1M86 42h1M89 42h2M107 42h1M113 42h1M116 42h1M0 43h53M54 43h2M62 43h1M64 43h1M66 43h1M68 43h1M71 43h1M92 43h1M96 43h1M103 43h1M108 43h1M119 43h1M0 44h58M64 44h1M68 44h1M70 44h1M73 44h2M76 44h1M81 44h1M107 44h3M113 44h1M116 44h1M120 44h1M0 45h58M59 45h2M63 45h3M69 45h2M73 45h1M90 45h1M92 45h1M95 45h1M115 45h1M120 45h1M0 46h58M59 46h1M61 46h1M63 46h5M72 46h1M76 46h1M85 46h1M111 46h1M126 46h1M0 47h55M56 47h3M60 47h1M62 47h1M64 47h2M71 47h1M77 47h2M81 47h1M95 47h1M0 48h56M57 48h2M61 48h1M63 48h1M66 48h1M68 48h1M71 48h1M84 48h1M88 48h1M0 49h49M51 49h2M56 49h2M59 49h1M63 49h3M67 49h2M71 49h1M75 49h1M85 49h1M125 49h1M0 50h50M51 50h1M53 50h2M58 50h1M60 50h1M63 50h1M65 50h1M69 50h1M76 50h1M79 50h1M86 50h1M93 50h1M0 51h43M44 51h9M54 51h2M59 51h3M64 51h1M67 51h5M73 51h1M80 51h1M0 52h47M48 52h1M51 52h1M53 52h4M58 52h1M60 52h1M62 52h5M69 52h3M102 52h1M0 53h2M3 53h2M6 53h2M10 53h3M14 53h10M25 53h10M36 53h9M46 53h2M52 53h1M54 53h3M58 53h1M60 53h2M63 53h1M67 53h2M70 53h1M72 53h1M74 53h2M77 53h1M84 53h1M91 53h1M96 53h1M2 54h2M5 54h2M8 54h2M14 54h2M18 54h4M23 54h4M28 54h12M42 54h2M45 54h2M48 54h3M53 54h2M60 54h2M65 54h3M72 54h1M114 54h1M0 55h1M2 55h1M4 55h1M6 55h1M8 55h1M10 55h2M13 55h1M15 55h1M19 55h21M41 55h2M44 55h5M50 55h3M55 55h2M58 55h7M67 55h1M69 55h1M73 55h1M88 55h1M94 55h1M1 56h6M9 56h2M12 56h11M24 56h3M29 56h5M35 56h2M38 56h2M41 56h4M50 56h2M54 56h2M57 56h3M61 56h1M64 56h4M69 56h2M76 56h2M82 56h1M0 57h6M9 57h1M11 57h1M13 57h1M15 57h2M18 57h3M22 57h8M31 57h4M36 57h6M46 57h2M49 57h1M51 57h1M53 57h1M55 57h3M62 57h1M66 57h1M68 57h2M77 57h1M83 57h1M88 57h1M94 57h1M0 58h3M4 58h3M9 58h1M12 58h10M23 58h2M28 58h1M30 58h3M35 58h4M40 58h4M47 58h3M52 58h3M56 58h1M60 58h2M64 58h2M67 58h3M71 58h1M76 58h1M78 58h1M83 58h1M94 58h1M0 59h1M2 59h1M4 59h1M6 59h6M13 59h3M17 59h1M19 59h2M22 59h4M27 59h8M38 59h2M41 59h3M48 59h1M54 59h2M57 59h1M60 59h1M62 59h1M64 59h6M72 59h1M74 59h2M1 60h2M4 60h3M9 60h2M13 60h2M18 60h3M22 60h4M27 60h4M32 60h2M35 60h6M44 60h2M49 60h1M53 60h1M56 60h1M58 60h1M60 60h4M65 60h1M68 60h1M71 60h1M73 60h2M78 60h1M81 60h1M3 61h2M6 61h1M8 61h1M10 61h9M20 61h6M27 61h1M30 61h7M38 61h8M50 61h1M52 61h1M54 61h1M56 61h1M58 61h1M62 61h3M69 61h1M78 61h1M89 61h1M1 62h1M3 62h1M5 62h4M10 62h2M13 62h5M19 62h1M21 62h1M23 62h5M29 62h12M42 62h3M47 62h1M50 62h2M53 62h1M56 62h1M63 62h4M68 62h1M72 62h1M74 62h1M76 62h1M79 62h1M82 62h1M85 62h1M95 62h1M105 62h1M0 63h1M3 63h1M5 63h3M9 63h2M13 63h8M22 63h2M25 63h2M28 63h9M38 63h2M44 63h1M47 63h1M60 63h1M64 63h2M72 63h2M81 63h2M121 63h1M0 64h7M9 64h1M11 64h1M13 64h1M15 64h4M22 64h8M31 64h1M33 64h8M42 64h1M45 64h1M52 64h1M58 64h1M61 64h1M63 64h1M75 64h1M79 64h1M89 64h1M101 64h1M3 65h4M8 65h6M16 65h6M23 65h1M25 65h14M41 65h2M53 65h1M60 65h1M63 65h1M67 65h2M70 65h1M72 65h1M83 65h1M90 65h1M94 65h2M1 66h1M5 66h1M7 66h1M9 66h2M13 66h3M17 66h1M20 66h8M29 66h9M41 66h2M53 66h1M55 66h2M58 66h1M64 66h1M67 66h1M73 66h1M83 66h1M88 66h1M0 67h3M5 67h3M12 67h1M14 67h1M18 67h4M23 67h5M29 67h10M40 67h3M58 67h1M77 67h3M90 67h1M94 67h1M1 68h3M5 68h2M8 68h2M11 68h1M15 68h4M20 68h4M26 68h2M29 68h3M33 68h5M39 68h2M42 68h1M52 68h1M79 68h1M82 68h1M89 68h2M92 68h1M94 68h1M104 68h1M0 69h3M4 69h1M6 69h5M12 69h4M20 69h2M23 69h5M29 69h3M34 69h2M38 69h1M40 69h2M43 69h1M47 69h1M49 69h1M57 69h1M71 69h1M89 69h1M1 70h1M4 70h1M8 70h2M11 70h3M16 70h1M19 70h7M27 70h11M40 70h1M65 70h1M69 70h1M71 70h1M73 70h1M77 70h1M81 70h1M83 70h1M86 70h1M0 71h1M2 71h2M5 71h3M12 71h2M15 71h1M18 71h4M24 71h2M27 71h2M30 71h4M35 71h1M37 71h1M39 71h1M43 71h1M45 71h1M47 71h1M57 71h1M90 71h2M93 71h2M99 71h1M106 71h1M2 72h3M6 72h3M10 72h2M13 72h3M17 72h2M20 72h6M27 72h1M29 72h1M31 72h3M35 72h7M45 72h1M53 72h1M68 72h1M73 72h1M78 72h1M90 72h1M0 73h6M7 73h1M9 73h1M11 73h6M18 73h2M24 73h5M30 73h3M34 73h5M40 73h2M74 73h1M77 73h1M86 73h1M0 74h4M6 74h23M30 74h3M34 74h2M37 74h1M39 74h1M41 74h1M53 74h1M85 74h2M0 75h6M7 75h10M18 75h10M29 75h6M40 75h2M46 75h1M76 75h1M85 75h1M88 75h3M0 76h38M40 76h2M68 76h1M79 76h1M83 76h1M87 76h1M89 76h1M91 76h1M95 76h1M0 77h29M30 77h5M36 77h3M40 77h3M58 77h1M75 77h1M84 77h1M87 77h1M91 77h1M96 77h1M0 78h39M40 78h1M42 78h1M60 78h1M62 78h1M69 78h1M82 78h1M86 78h1M91 78h1M0 79h37M38 79h2M42 79h2M60 79h1M72 79h1M80 79h1M88 79h1M93 79h1M0 80h41M42 80h1M57 80h1M84 80h2M88 80h1M90 80h2M94 80h1M0 81h35M36 81h6M58 81h1M78 81h1M83 81h1M90 81h2M0 82h42M52 82h1M87 82h3M91 82h3M99 82h1M0 83h40M41 83h1M72 83h1M88 83h1M90 83h1M92 83h2M0 84h41M56 84h1M65 84h1M67 84h1M71 84h1M89 84h1M91 84h1M99 84h1M0 85h42M71 85h1M84 85h1M88 85h1M90 85h2M93 85h1M95 85h1M99 85h1M0 86h40M42 86h1M69 86h1M79 86h1M86 86h1M91 86h1M0 87h38M39 87h3M44 87h1M63 87h1M76 87h1M0 88h40M41 88h1M71 88h1M88 88h1M95 88h1M0 89h41M43 89h1M45 89h1M64 89h1M88 89h1M90 89h1M0 90h42M56 90h1M85 90h1M0 91h41M42 91h1M45 91h1M84 91h1M86 91h1M89 91h1M92 91h1M0 92h37M38 92h1M40 92h2M48 92h1M67 92h1M0 93h39M40 93h2M43 93h1M45 93h1M69 93h1M73 93h1M0 94h42M43 94h1M68 94h1M73 94h1M0 95h36M37 95h2M41 95h2M57 95h1M65 95h1M85 95h1M0 96h39M40 96h1M42 96h1M44 96h1M77 96h1M0 97h41M43 97h1M72 97h1M78 97h1M90 97h1M0 98h40M45 98h1M64 98h1M89 98h1M103 98h1M0 99h39M40 99h2M66 99h1M70 99h1M77 99h1M89 99h1M104 99h1M0 100h42M90 100h1M93 100h1M98 100h1M0 101h38M39 101h1M48 101h1M87 101h1M0 102h44M79 102h3" stroke="#111" stroke-width="1.04" fill="none"/></g>
<rect x="309" y="256.3" width="195" height="155" fill="none" stroke="#111" stroke-width="1.5"/>
<path d="M325.4 411v4.8M309 399.9h-4.6M333.8 411v4.8M309 393.2h-4.6M339.8 411v4.8M309 388.4h-4.6M344.4 411v4.8M309 384.7h-4.6M348.2 411v4.8M309 381.6h-4.6M351.4 411v4.8M309 379.0h-4.6M354.2 411v4.8M309 376.8h-4.6M356.6 411v4.8M309 374.9h-4.6M373.2 411v4.8M309 361.5h-4.6M381.6 411v4.8M309 354.8h-4.6M387.6 411v4.8M309 350.0h-4.6M392.2 411v4.8M309 346.3h-4.6M396.0 411v4.8M309 343.2h-4.6M399.2 411v4.8M309 340.6h-4.6M402.0 411v4.8M309 338.4h-4.6M404.4 411v4.8M309 336.5h-4.6M421.0 411v4.8M309 323.1h-4.6M429.4 411v4.8M309 316.4h-4.6M435.4 411v4.8M309 311.6h-4.6M440.0 411v4.8M309 307.9h-4.6M443.8 411v4.8M309 304.8h-4.6M447.0 411v4.8M309 302.2h-4.6M449.8 411v4.8M309 300.0h-4.6M452.2 411v4.8M309 298.1h-4.6M468.8 411v4.8M309 284.7h-4.6M477.2 411v4.8M309 278.0h-4.6M483.2 411v4.8M309 273.2h-4.6M487.8 411v4.8M309 269.5h-4.6M491.6 411v4.8M309 266.4h-4.6M494.8 411v4.8M309 263.8h-4.6M497.6 411v4.8M309 261.6h-4.6M500.0 411v4.8M309 259.7h-4.6" stroke="#111" stroke-width="1.2" fill="none"/>
<path d="M311.0 411v8.3M309 411.5h-8M358.8 411v8.3M309 373.1h-8M406.6 411v8.3M309 334.7h-8M454.4 411v8.3M309 296.3h-8M502.2 411v8.3M309 257.9h-8" stroke="#111" stroke-width="1.6" fill="none"/>
<text x="304.4" y="433.3" font-size="12">10<tspan dy="-3.2" dx="0.6" font-size="10">0</tspan></text>
<text transform="translate(298.9 418.1) rotate(-90)" font-size="13.9">10<tspan dy="-4.8" dx="0.8" font-size="12.4">0</tspan></text>
<text x="352.2" y="433.3" font-size="12">10<tspan dy="-3.2" dx="0.6" font-size="10">1</tspan></text>
<text transform="translate(298.9 380.7) rotate(-90)" font-size="13.9">10<tspan dy="-4.8" dx="0.8" font-size="12.4">1</tspan></text>
<text x="400.0" y="433.3" font-size="12">10<tspan dy="-3.2" dx="0.6" font-size="10">2</tspan></text>
<text transform="translate(298.9 339.3) rotate(-90)" font-size="13.9">10<tspan dy="-4.8" dx="0.8" font-size="12.4">2</tspan></text>
<text x="447.8" y="433.3" font-size="12">10<tspan dy="-3.2" dx="0.6" font-size="10">3</tspan></text>
<text transform="translate(298.9 303.2) rotate(-90)" font-size="13.9">10<tspan dy="-4.8" dx="0.8" font-size="12.4">3</tspan></text>
<text x="495.6" y="433.3" font-size="12">10<tspan dy="-3.2" dx="0.6" font-size="10">4</tspan></text>
<text transform="translate(298.9 265.9) rotate(-90)" font-size="13.9">10<tspan dy="-4.8" dx="0.8" font-size="12.4">4</tspan></text>
<rect x="432.5" y="298" width="70.5" height="37.5" fill="none" stroke="#111" stroke-width="1.5"/>
<text x="443.5" y="293.8" font-size="19">0.23%</text>
<text x="406.8" y="245.7" font-size="14" text-anchor="middle">KO Immunized</text>
<rect x="45.2" y="517.0" width="371.0" height="243.60000000000002" fill="none" stroke="#4a4a4a" stroke-width="1.1"/>
<text x="40.6" y="766.6" font-size="15" text-anchor="end">0</text>
<text x="40.6" y="742.2" font-size="15" text-anchor="end">2</text>
<text x="40.6" y="717.9" font-size="15" text-anchor="end">4</text>
<text x="40.6" y="693.5" font-size="15" text-anchor="end">6</text>
<text x="40.6" y="669.2" font-size="15" text-anchor="end">8</text>
<text x="40.6" y="644.8" font-size="15" text-anchor="end">10</text>
<text x="40.6" y="620.4" font-size="15" text-anchor="end">12</text>
<text x="40.6" y="596.1" font-size="15" text-anchor="end">14</text>
<text x="40.6" y="571.7" font-size="15" text-anchor="end">16</text>
<text x="40.6" y="547.4" font-size="15" text-anchor="end">18</text>
<text x="40.6" y="523.0" font-size="15" text-anchor="end">20</text>
<path d="M45.2 760.60h-3.5M45.2 736.24h-3.5M45.2 711.88h-3.5M45.2 687.52h-3.5M45.2 663.16h-3.5M45.2 638.80h-3.5M45.2 614.44h-3.5M45.2 590.08h-3.5M45.2 565.72h-3.5M45.2 541.36h-3.5M45.2 517.00h-3.5M137.9 760.6v3.5M230.7 760.6v3.5M323.4 760.6v3.5" stroke="#4a4a4a" stroke-width="1" fill="none"/>
<rect x="65.5" y="753.3" width="26.5" height="7.3" fill="#111"/>
<rect x="92.5" y="755.1" width="25.8" height="5.5" fill="#fff" stroke="#222" stroke-width="1.05"/>
<path d="M78.2 753.3V751.1M75.4 751.1h5.6" stroke="#3a3a3a" stroke-width="1.1" fill="none"/>
<path d="M104.8 755.1V754.5M102.0 754.5h5.6" stroke="#3a3a3a" stroke-width="1.1" fill="none"/>
<text x="89.8" y="775.1" font-size="13.9" text-anchor="middle">B220+IgM+</text>
<rect x="157.8" y="568.2" width="27.9" height="192.4" fill="#111"/>
<rect x="186.2" y="636.4" width="24.6" height="124.2" fill="#fff" stroke="#222" stroke-width="1.05"/>
<path d="M171.2 568.2V528.0M168.3 528.0h5.6" stroke="#3a3a3a" stroke-width="1.1" fill="none"/>
<path d="M197.8 636.4V590.7M195.0 590.7h5.6" stroke="#3a3a3a" stroke-width="1.1" fill="none"/>
<text x="184" y="775.1" font-size="13.9" text-anchor="middle">B220+IgG1+</text>
<rect x="250.4" y="697.9" width="26.6" height="62.7" fill="#111"/>
<rect x="277.5" y="696.7" width="26.3" height="63.9" fill="#fff" stroke="#222" stroke-width="1.05"/>
<path d="M263.1 697.9V675.3M260.3 675.3h5.6" stroke="#3a3a3a" stroke-width="1.1" fill="none"/>
<path d="M290.0 696.7V659.5M287.2 659.5h5.6" stroke="#3a3a3a" stroke-width="1.1" fill="none"/>
<text x="277.5" y="775.1" font-size="13.9" text-anchor="middle">B220+IgG2a+</text>
<rect x="343" y="684.5" width="27.0" height="76.1" fill="#111"/>
<rect x="370.5" y="701.5" width="25.9" height="59.1" fill="#fff" stroke="#222" stroke-width="1.05"/>
<path d="M355.9 684.5V674.7M353.1 674.7h5.6" stroke="#3a3a3a" stroke-width="1.1" fill="none"/>
<path d="M382.8 701.5V690.0M380.0 690.0h5.6" stroke="#3a3a3a" stroke-width="1.1" fill="none"/>
<text x="370.7" y="775.1" font-size="13.9" text-anchor="middle">B220+IgG2b+</text>
<text transform="translate(16.9 670.3) rotate(-90)" font-size="18.6">% PE+</text>
<rect x="330.7" y="524.9" width="79" height="57.6" fill="#fff" stroke="#111" stroke-width="1.9"/>
<rect x="342.6" y="534.6999999999999" width="12.7" height="12.6" fill="#111"/>
<rect x="343.3" y="561.5" width="11.6" height="11.8" fill="#fff" stroke="#111" stroke-width="1.6"/>
<text x="366" y="550.1" font-size="19">Wt</text>
<text x="364.8" y="573.3" font-size="19">KO</text>
<rect x="49.5" y="829.0" width="366.9" height="238.4000000000001" fill="none" stroke="#4a4a4a" stroke-width="1.1"/>
<text x="44.6" y="1073.4" font-size="15" text-anchor="end">0</text>
<text x="44.6" y="1049.6" font-size="15" text-anchor="end">5</text>
<text x="44.6" y="1025.7" font-size="15" text-anchor="end">10</text>
<text x="44.6" y="1001.9" font-size="15" text-anchor="end">15</text>
<text x="44.6" y="978.0" font-size="15" text-anchor="end">20</text>
<text x="44.6" y="954.2" font-size="15" text-anchor="end">25</text>
<text x="44.6" y="930.4" font-size="15" text-anchor="end">30</text>
<text x="44.6" y="906.5" font-size="15" text-anchor="end">35</text>
<text x="44.6" y="882.7" font-size="15" text-anchor="end">40</text>
<text x="44.6" y="858.8" font-size="15" text-anchor="end">45</text>
<text x="44.6" y="835.0" font-size="15" text-anchor="end">50</text>
<path d="M49.5 1067.40h-3.5M49.5 1043.56h-3.5M49.5 1019.72h-3.5M49.5 995.88h-3.5M49.5 972.04h-3.5M49.5 948.20h-3.5M49.5 924.36h-3.5M49.5 900.52h-3.5M49.5 876.68h-3.5M49.5 852.84h-3.5M49.5 829.00h-3.5M141.2 1067.4v3.5M232.9 1067.4v3.5M324.7 1067.4v3.5" stroke="#4a4a4a" stroke-width="1" fill="none"/>
<rect x="68.8" y="979.2" width="27.0" height="88.2" fill="#111"/>
<rect x="96.3" y="961.1" width="25.5" height="106.3" fill="#fff" stroke="#222" stroke-width="1.05"/>
<path d="M81.7 979.2V919.1M78.9 919.1h5.6" stroke="#3a3a3a" stroke-width="1.1" fill="none"/>
<path d="M108.4 961.1V886.2M105.6 886.2h5.6" stroke="#3a3a3a" stroke-width="1.1" fill="none"/>
<text x="96.5" y="1082.5" font-size="15.0" text-anchor="middle">IgM</text>
<rect x="160.4" y="981.6" width="26.9" height="85.8" fill="#111"/>
<rect x="187.8" y="954.4" width="25.7" height="113.0" fill="#fff" stroke="#222" stroke-width="1.05"/>
<path d="M173.3 981.6V919.1M170.5 919.1h5.6" stroke="#3a3a3a" stroke-width="1.1" fill="none"/>
<path d="M200.0 954.4V859.5M197.2 859.5h5.6" stroke="#3a3a3a" stroke-width="1.1" fill="none"/>
<text x="186.8" y="1082.5" font-size="15.0" text-anchor="middle">IgG1</text>
<rect x="252" y="1053.8" width="26.5" height="13.6" fill="#111"/>
<rect x="279.0" y="1020.2" width="26.4" height="47.2" fill="#fff" stroke="#222" stroke-width="1.05"/>
<path d="M264.6 1053.8V1043.8M261.8 1043.8h5.6" stroke="#3a3a3a" stroke-width="1.1" fill="none"/>
<path d="M291.6 1020.2V976.3M288.8 976.3h5.6" stroke="#3a3a3a" stroke-width="1.1" fill="none"/>
<text x="278.2" y="1082.5" font-size="15.0" text-anchor="middle">IgG2a</text>
<rect x="344.2" y="1060.2" width="25.8" height="7.2" fill="#111"/>
<rect x="370.5" y="1049.5" width="26.5" height="17.9" fill="#fff" stroke="#222" stroke-width="1.05"/>
<path d="M356.5 1060.2V1055.7M353.7 1055.7h5.6" stroke="#3a3a3a" stroke-width="1.1" fill="none"/>
<path d="M383.1 1049.5V1034.5M380.3 1034.5h5.6" stroke="#3a3a3a" stroke-width="1.1" fill="none"/>
<text x="370.5" y="1082.5" font-size="15.0" text-anchor="middle">IgG2b</text>
<text transform="translate(18.3 1027) rotate(-90)" font-size="18.6">% Ig+ of B220+PE+</text>
<rect x="330.7" y="837.6" width="79" height="57.6" fill="#fff" stroke="#111" stroke-width="1.9"/>
<rect x="342.6" y="847.4" width="12.7" height="12.6" fill="#111"/>
<rect x="343.3" y="874.2" width="11.6" height="11.8" fill="#fff" stroke="#111" stroke-width="1.6"/>
<text x="366" y="862.8000000000001" font-size="19">Wt</text>
<text x="364.8" y="886.0" font-size="19">KO</text>
</svg>
</body></html>
